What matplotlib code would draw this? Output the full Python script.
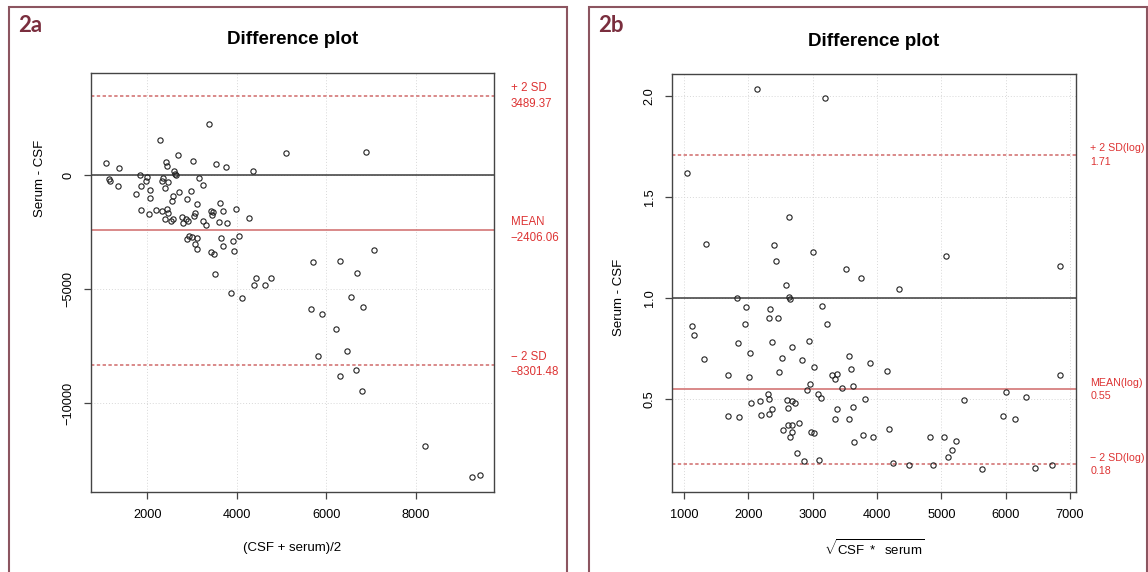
import numpy as np
import matplotlib
matplotlib.use("Agg")
import matplotlib.pyplot as plt
from matplotlib.patches import Rectangle
from matplotlib.transforms import blended_transform_factory

plt.rcParams["font.family"] = ["Liberation Sans", "DejaVu Sans"]
plt.rcParams["mathtext.fontset"] = "custom"
plt.rcParams["mathtext.rm"] = "Liberation Sans"
plt.rcParams["mathtext.it"] = "Liberation Sans:italic"

# panel 2a: mean of CSF and serum vs difference
a_mean = [1085, 1368, 1137, 1174, 1338, 1829, 1986, 1964, 1859, 2060, 1740, 2068,
          2284, 2418, 2440, 2679, 3021, 2351, 2336, 2470, 2388, 2604, 2649, 2626,
          2708, 2582, 2545, 2887, 2977, 3155, 3245, 3386, 3528, 3759, 4362, 5107,
          1859, 2038, 2194, 2321, 2433, 2470, 2403, 2537, 2567, 2768, 2805, 2857,
          2909, 3036, 3073, 3103, 3423, 3468, 3453, 3625, 3684, 3975, 4273, 3252,
          3304, 3610, 3781, 2932, 2895, 2999, 3118, 3073, 3111, 3423, 3491, 3654,
          3692, 3915, 4049, 3937, 5703, 3513, 3863, 4124, 4422, 4377, 4623, 4757,
          6887, 7059, 6299, 6686, 6545, 5658, 6813, 5904, 6217, 6462, 5822, 6664,
          6306, 6798, 8206, 9256, 9427]
a_diff = [525, 320, -162, -235, -469, 0, -89, -265, -469, -645, -820, -996,
          1548, 569, 423, 905, 627, -133, -235, -279, -572, 189, 13, 72,
          -718, -893, -1113, -1039, -689, -118, -440, 2235, 481, 364, 203, 978,
          -1507, -1683, -1522, -1580, -1493, -1639, -1931, -2019, -1931, -1844, -2077, -1931,
          -2019, -1770, -1639, -1259, -1580, -1595, -1727, -1215, -1551, -1478, -1873, -2019,
          -2165, -2034, -2092, -2662, -2808, -2721, -2750, -3028, -3247, -3379, -3466, -2750,
          -3101, -2867, -2662, -3335, -3817, -4329, -5162, -5396, -4519, -4797, -4826, -4519,
          1022, -3262, -3759, -4271, -5323, -5879, -5791, -6069, -6727, -7706, -7925, -8539,
          -8803, -9446, -11887, -13218, -13159]
a_lines = [3489.37, -2406.06, -8301.48]
a_names = ["+ 2 SD", "MEAN", "\u2212 2 SD"]

# panel 2b: geometric mean vs ratio
b_gmean = [2139, 3187, 1046, 2632, 1346, 2394, 2430, 3000, 3513, 3751, 4346, 2590,
           1823, 2627, 2643, 1968, 2336, 3145, 2321, 2456, 5068, 6849,
           1124, 1160, 1952, 3222, 1310, 1839, 2363, 2026, 2674, 2943, 2528, 2834,
           3560, 3896, 3025, 3591, 4160, 1683, 2005, 2476, 3305, 3373, 3347, 3460,
           3622, 2954, 2907, 2301, 2326, 2176, 2046, 3078, 3125, 3809, 2596, 2674,
           2725, 2612, 2367, 2316, 2192, 3378, 3627, 3347, 3560, 1688, 1850, 2612,
           2683, 2787, 2534, 2674, 2647, 2974, 3016, 4182, 3787, 3938, 3647, 2756,
           2865, 3098, 4248, 4493,
           6840, 6000, 6316, 5357, 5963, 6150, 4819, 5037, 5223, 5170, 5103, 4866,
           5637, 6456, 6725]
b_ratio = [2.037, 1.993, 1.623, 1.405, 1.270, 1.265, 1.187, 1.230, 1.146, 1.101, 1.047, 1.067,
           1.001, 1.009, 0.999, 0.958, 0.950, 0.963, 0.905, 0.902, 1.212, 1.159,
           0.862, 0.821, 0.874, 0.874, 0.699, 0.778, 0.786, 0.729, 0.761, 0.791, 0.705, 0.696,
           0.714, 0.682, 0.661, 0.649, 0.640, 0.621, 0.610, 0.638, 0.620, 0.625, 0.603, 0.558,
           0.565, 0.577, 0.549, 0.526, 0.502, 0.494, 0.481, 0.526, 0.506, 0.502, 0.496, 0.491,
           0.483, 0.459, 0.451, 0.427, 0.422, 0.455, 0.461, 0.405, 0.403, 0.417, 0.415, 0.375,
           0.375, 0.382, 0.347, 0.338, 0.313, 0.338, 0.333, 0.354, 0.323, 0.313, 0.290, 0.234,
           0.197, 0.202, 0.186, 0.176,
           0.623, 0.539, 0.514, 0.496, 0.418, 0.402, 0.314, 0.316, 0.296, 0.250, 0.217, 0.177,
           0.156, 0.162, 0.176]
b_lines = [1.71, 0.55, 0.18]
b_names = ["+ 2 SD(log)", "MEAN(log)", "\u2212 2 SD(log)"]

W, H = 1148, 572
RED_TXT = "#DD3333"
RED_LINE = "#D06A6A"
FRAME = "#8C5560"


def draw_panel(ax, x, y, lines, names, ref, xticks, yticks, ylabels, xlim, ylim, xlabel,
               note_x=1.042, note_size=8.3):
    ax.set_xlim(*xlim)
    ax.set_ylim(*ylim)
    for t in xticks:
        ax.axvline(t, color="#d8d8d8", lw=0.7, ls=(0, (1, 2)), zorder=0)
    for t in yticks:
        ax.axhline(t, color="#d8d8d8", lw=0.7, ls=(0, (1, 2)), zorder=0)
    ax.axhline(ref, color="#3a3a3a", lw=1.1, zorder=1)
    ax.axhline(lines[0], color=RED_LINE, lw=1.1, ls=(0, (2.2, 1.6)), zorder=1)
    ax.axhline(lines[1], color=RED_LINE, lw=1.1, zorder=1)
    ax.axhline(lines[2], color=RED_LINE, lw=1.1, ls=(0, (2.2, 1.6)), zorder=1)
    ax.plot(x, y, ls="none", marker="o", ms=3.8, mfc="none", mec="#222222", mew=0.8, zorder=2)

    tr = blended_transform_factory(ax.transAxes, ax.transData)
    for val, name in zip(lines, names):
        num = f"{val:.2f}".replace("-", "\u2212")
        ax.text(note_x, val, f"{name}\n{num}", transform=tr, ha="left", va="center",
                fontsize=note_size, color=RED_TXT, linespacing=1.4, clip_on=False)

    ax.set_xticks(xticks)
    ax.set_xticklabels([str(t) for t in xticks])
    ax.set_yticks(yticks)
    ax.set_yticklabels(ylabels)
    ax.tick_params(direction="out", length=5, width=0.9, color="#444444",
                   labelsize=9.2, pad=7)
    ax.tick_params(axis="y", labelrotation=90)
    for lab in ax.get_yticklabels():
        lab.set_verticalalignment("center")
    for s in ax.spines.values():
        s.set_color("#444444")
        s.set_linewidth(1.0)

    ax.text(0.5, 1 + 33 / 419, "Difference plot", transform=ax.transAxes,
            ha="center", va="center", fontsize=13.5, fontweight="bold")
    ax.text(0.5, -56 / 419, xlabel, transform=ax.transAxes, ha="center", va="center",
            fontsize=9.5)


fig = plt.figure(figsize=(W / 100, H / 100), dpi=100)

ax1 = fig.add_axes([91 / W, 1 - 492 / H, 403 / W, 419 / H])
draw_panel(ax1, a_mean, a_diff, a_lines, a_names, 0,
           [2000, 4000, 6000, 8000], [0, -5000, -10000],
           ["0", "\u22125000", "\u221210000"],
           (742, 9747), (-13890, 4487), "(CSF + serum)/2")
ax1.text(-51 / 403, 1 - (178 - 73) / 419, "Serum - CSF", transform=ax1.transAxes,
         rotation=90, ha="center", va="center", fontsize=9.5)

ax2 = fig.add_axes([672.3 / W, 1 - 492.3 / H, 403.4 / W, 418.3 / H])
draw_panel(ax2, b_gmean, b_ratio, b_lines, b_names, 1.0,
           [1000, 2000, 3000, 4000, 5000, 6000, 7000], [0.5, 1.0, 1.5, 2.0],
           ["0.5", "1.0", "1.5", "2.0"],
           (818, 7088), (0.0406, 2.111), r"$\sqrt{\mathrm{CSF\ *\ \ serum}}$",
           note_x=1.036, note_size=7.7)
ax2.text(-53 / 403, 1 - (297 - 74) / 418, "Serum - CSF", transform=ax2.transAxes,
         rotation=90, ha="center", va="center", fontsize=9.5)

# maroon frames and panel tags
for x0, x1 in [(9, 567), (589, 1146.5)]:
    fig.patches.append(Rectangle((x0 / W, -0.05), (x1 - x0) / W, 1.05 - 6.7 / H,
                                 transform=fig.transFigure, fill=False,
                                 edgecolor=FRAME, lw=1.5))
fig.text(18 / W, 1 - 25 / H, "2a", ha="left", va="center", fontsize=16,
         fontweight="bold", color="#7A2E3E", family="Lato")
fig.text(598 / W, 1 - 25 / H, "2b", ha="left", va="center", fontsize=16,
         fontweight="bold", color="#7A2E3E", family="Lato")

fig.savefig("out.png", dpi=100)
